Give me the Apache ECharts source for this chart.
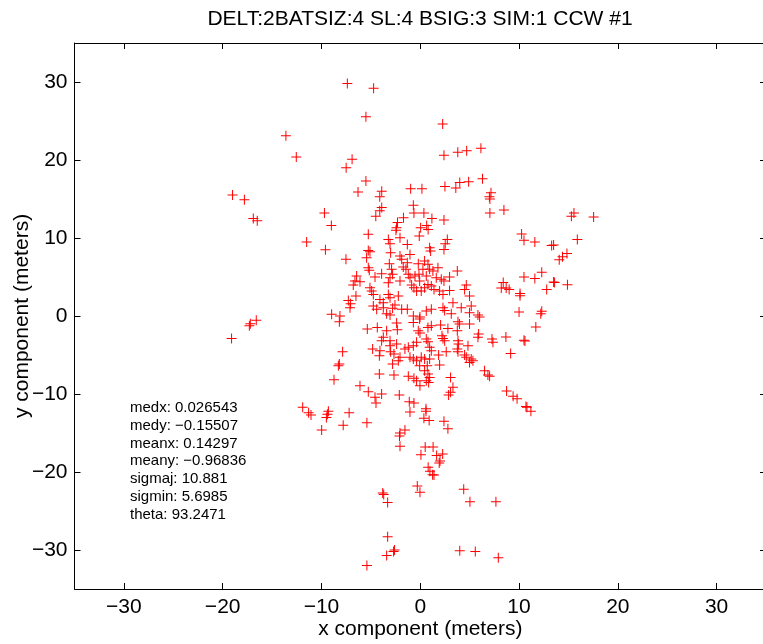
<!DOCTYPE html>
<html>
<head>
<meta charset="utf-8">
<script src="https://cdn.jsdelivr.net/npm/echarts@6.0.0/dist/echarts.min.js"></script>
<style>
  html, body { margin: 0; padding: 0; background: #fff; }
  #chart { width: 763px; height: 644px; }
</style>
</head>
<body>
<div id="chart"></div>
<script>
// x / y components (meters)
const xs = [
  -13.6, -12.55, -19.0, -17.8, -16.9, -16.5, -9.7, -11.5, -9.6,
  -19.1, -17.3, -17.2, -16.6,
  8.47, 15.56, 15.3, 17.55, 10.26, 10.5, 11.6, 13.3, 13.5, 15.9, 14.85, 14.4, 14.07, 12.3, 10.5, 11.6, 13.5, 13.6, 14.9, 12.8, 8.4, 8.2, 8.7, 9.0, 10.1, 10.1, 10.0, 12.3, 12.2,
  11.7, 8.67, 10.5, 10.6, 9.15, 8.74, 9.4, 9.8, 10.7, 10.8, 11.2,
  -11.9, -11.3, -11.06, -9.3, -9.4, -9.5, -7.2, -7.8, -9.98, -5.4, -3.8, -3.7, -3.3, -3.3, -3.4, -2.7, -2.6, -5.4,
  -7.38, -4.72, -5.5, 2.27, 2.4, 3.8, 4.7, 6.14, -6.9, -7.5, -5.5, -6.3, -3.9, -4.1, -0.97, 0.17, 2.5, 3.6, 4.0, 4.9, 6.3, 7.16, 7.0, 7.05,
  -3.9, -4.1, -4.5, -0.7, -0.64, 0.37, 1.18, 2.4, 7.05, -9.0, -2.3, -1.7, -2.4, -2.46, 0.04, 0.65, 0.8,
  -1.04, 0.58, 0.58, 0.37, 0.9, 2.4, 2.8, -1.55, -2.05, -2.1, -2.05, 0.5, 1.3, 0.07, 1.66, 2.27, 2.0, 1.92, 0.8, 0.98, 1.25, 1.39, -0.3, -0.03, 4.4, 5.03, 7.66, 4.0, 5.57, 7.9,
  -5.26, -3.23, -2.05, -1.31, -3.06, -0.1, -7.52, -5.26, -5.09, -5.43, -3.0, -2.05, -1.88, -1.04, -1.31, -3.13, -0.2, -5.26, -5.16, -6.44, -4.58, -3.91, -2.9, -2.8, -1.72, -1.45, -1.21, -1.04, -0.53, -0.13,
  -3.06, -3.23, -6.61, -6.78, -6.1, -2.05, -0.87, -0.64, -0.37, -5.09, -4.92, -4.75, -6.51, -3.23, -3.06, -2.22, -4.08, -3.74, -7.28, -7.05, -7.11, -4.75, -4.41, -2.56, -2.8, -3.74, -1.88, -1.31, -3.4, -3.06, -8.97, -8.13, -0.7, -0.03,
  2.74, 2.53, 2.4, 0.95, 1.05, 0.44, 0.78, 3.75, 0.27, 0.95, 1.28, 1.79, 0.61, 1.62, 2.13, 2.4, 2.97, -0.06, 0.78, 1.12, 0.44, 1.39, 0.1, 1.96, 2.97, 4.66, 4.49, 4.99, 2.3, 3.31, 5.16, 4.15, 4.99, 5.84, 6.01, 2.3, 2.47, 1.12, 0.61, 3.14,
  -8.19, -5.36, -4.35, -3.4, -2.39, -2.32, -0.7, -0.2, -3.74, -3.91, -3.06, -3.06, -2.39, -4.82, -4.08, -4.14, -7.86, -8.19, -8.29, -3.0, -2.66, -2.05, -2.22, -1.55, -1.21, -0.7, -0.37, -0.7, -0.37, -1.04, -2.8,
  -8.73, -4.14, -2.66, -1.21, -0.64, -0.37, -0.03, -6.1, -5.26, -4.58, -3.91, -4.48, -2.12, -1.11, -0.64, -0.03,
  -0.06, 0.78, 1.12, 2.06, 2.8, 3.82, 3.98, 3.75, 4.99, 5.91, 5.84, 2.2, 2.3, 2.47, 0.61, 0.78, 3.82, 3.88, 4.83, 7.26, 7.36, 0.95, 1.12, 2.63, 1.86, 3.75, 3.82, 4.49, 4.66, 5.16, 5.33, 4.99,
  0.1, 0.44, 0.95, -0.06, 0.71, 1.96, 0.44, 0.78, 0.95, 0.61, 0.85, 3.07, 6.51, 6.85, 7.02, 3.31, 3.07, 2.87
];
const ys = [
  23.1, 20.4, 15.5, 14.9, 12.5, 12.2, 13.2, 9.5, 8.5,
  -2.9, -1.24, -1.0, -0.56,
  13.6, 13.2, 12.8, 12.7, 10.5, 9.7, 9.5, 9.05, 9.1, 9.8, 8.0, 7.6, 7.2, 5.6, 5.0, 4.8, 4.35, 4.3, 4.0, 3.4, 4.3, 3.6, 3.6, 3.4, 2.9, 2.6, 0.5, 0.6, 0.3,
  -1.4, -2.7, -3.1, -3.2, -4.8, -9.6, -10.3, -10.6, -11.6, -11.7, -12.2,
  -11.7, -12.4, -12.7, -12.2, -12.6, -13.0, -12.4, -14.0, -14.6, -13.7, -22.7, -22.9, -23.9, -28.3, -30.7, -30.2, -30.0, -32.0,
  29.8, 29.2, 25.55, 24.6, 20.6, 21.0, 21.2, 21.5, 20.1, 19.0, 17.3, 15.9, 16.0, 15.3, 16.3, 16.3, 16.6, 16.4, 17.1, 17.2, 17.6, 15.8, 15.3, 15.0,
  13.9, 13.5, 12.8, 14.2, 13.2, 13.2, 12.5, 12.3, 13.2, 11.6, 12.0, 12.6, 11.3, 11.0, 11.3, 11.6, 11.1,
  -12.3, -11.9, -12.2, -13.1, -13.4, -13.5, -14.45, -14.6, -15.0, -15.4, -16.7, -16.8, -16.8, -17.8, -17.9, -17.7, -18.6, -18.85, -19.4, -19.9, -20.35, -20.4, -21.8, -22.6, -22.2, -23.8, -23.8, -30.1, -30.2, -31.0,
  10.47, 9.82, 10.04, 9.18, 9.27, 10.25, 7.26, 8.41, 8.24, 7.47, 8.11, 7.69, 7.26, 7.9, 6.83, 6.7, 6.7, 6.19, 5.85, 5.12, 4.99, 5.42, 5.98, 5.34, 6.28, 5.98, 5.34, 4.91, 5.12, 5.34,
  4.91, 4.27, 4.48, 3.97, 4.4, 4.48, 3.97, 3.63, 3.2, 3.63, 3.2, 2.77, 2.56, 2.77, 2.35, 2.56, 2.13, 1.7, 2.0, 1.57, 1.06, 1.28, 0.85, 1.4, 0.98, 1.06, 0.85, 0.85, 0.29, 0.12, 0.21, -0.01, -0.01, -0.13,
  9.82, 9.27, 8.54, 8.76, 8.33, 7.05, 6.62, 5.76, 5.98, 5.98, 5.76, 6.19, 5.12, 4.91, 4.7, 4.48, 4.99, 4.48, 4.05, 3.84, 3.63, 3.41, 3.2, 3.2, 3.28, 3.97, 3.41, 2.56, 2.77, 1.7, 1.28, 1.06, 0.42, 0.12, -0.13, 1.06, 0.72, 0.85, 0.63, 0.29,
  -0.73, -1.67, -1.46, -1.88, -0.9, -1.76, -0.82, -1.88, -2.74, -3.17, -3.17, -3.81, -3.6, -4.24, -4.45, -5.09, -4.58, -6.16, -6.37, -4.58, -4.88, -5.3, -5.73, -4.24, -4.02, -3.81, -3.38, -5.52, -5.73, -5.3, -6.16,
  -8.17, -7.44, -7.57, -7.74, -7.99, -8.3, -8.94, -8.94, -9.71, -10.43, -10.0, -11.16, -10.13, -10.99, -11.16, -2.18,
  -0.39, -1.46, -1.24, -1.16, -1.59, -0.73, -1.03, -1.88, -1.03, -2.31, -2.74, -2.52, -2.87, -3.17, -2.95, -3.3, -3.17, -3.6, -3.81, -2.95, -3.38, -4.02, -4.45, -4.58, -5.0, -4.24, -4.58, -5.0, -5.3, -5.52, -5.73, -5.95,
  -5.3, -5.52, -5.52, -6.37, -6.37, -6.29, -7.01, -7.44, -7.87, -8.3, -8.51, -7.87, -7.01, -7.57, -7.74, -9.15, -9.79, -10.13
];

const titleText = 'DELT:2BATSIZ:4 SL:4 BSIG:3 SIM:1 CCW #1';
const xName = 'x component (meters)';
const yName = 'y component (meters)';
const statLines = [
  'medx: 0.026543',
  'medy: \u22120.15507',
  'meanx: 0.14297',
  'meany: \u22120.96836',
  'sigmaj: 10.881',
  'sigmin: 5.6985',
  'theta: 93.2471'
];

const FONT = 'Liberation Sans, Arial, Helvetica, sans-serif';
const minus = v => String(v).replace('-', '\u2212');

const chart = echarts.init(document.getElementById('chart'));

const line = { show: true, onZero: false, lineStyle: { color: '#000', width: 1 } };
const tick = { show: true, inside: true, length: 6, lineStyle: { color: '#000', width: 1 } };
const label = {
  color: '#000', fontSize: 21, fontFamily: FONT,
  showMinLabel: false, showMaxLabel: false, formatter: minus
};

// plus-shaped marker, 1px strokes
const plus = 'path://M4.5,0H5.5V4.5H10V5.5H5.5V10H4.5V5.5H0V4.5H4.5Z';

chart.setOption({
  animation: false,
  backgroundColor: '#fff',
  grid: { left: 74.5, right: -3, top: 43, bottom: 55, containLabel: false, outerBoundsMode: 'none' },
  xAxis: [
    {
      type: 'value', min: -35, max: 35, position: 'bottom',
      axisLine: line, axisTick: tick, splitLine: { show: false },
      axisLabel: Object.assign({ margin: 8 }, label),
      name: xName, nameLocation: 'middle', nameGap: 30, nameMoveOverlap: false,
      nameTextStyle: { color: '#000', fontSize: 21, fontFamily: FONT }
    },
    {
      type: 'value', min: -35, max: 35, position: 'top',
      axisLine: line, axisTick: tick, splitLine: { show: false },
      axisLabel: { show: false }
    }
  ],
  yAxis: [
    {
      type: 'value', min: -35, max: 35, position: 'left',
      axisLine: line, axisTick: tick, splitLine: { show: false },
      axisLabel: Object.assign({ margin: 7 }, label),
      name: yName, nameLocation: 'middle', nameGap: 42, nameMoveOverlap: false,
      nameTextStyle: { color: '#000', fontSize: 21, fontFamily: FONT }
    },
    {
      type: 'value', min: -35, max: 35, position: 'right',
      axisLine: line, axisTick: tick, splitLine: { show: false },
      axisLabel: { show: false }
    }
  ],
  series: [
    {
      type: 'scatter',
      symbol: plus,
      symbolSize: 10,
      itemStyle: { color: '#ff0000', opacity: 1 },
      silent: true,
      data: xs.map((x, i) => [x, ys[i]])
    }
  ],
  graphic: [
    {
      type: 'text', x: 420, y: 19,
      style: {
        text: titleText, fill: '#000', font: '21px ' + FONT,
        textAlign: 'center', textVerticalAlign: 'middle'
      }
    },
    {
      type: 'text', left: 130, top: 399,
      style: {
        text: statLines.join('\n'), fill: '#000', font: '15px ' + FONT,
        lineHeight: 17.8
      }
    }
  ]
});
</script>
</body>
</html>
